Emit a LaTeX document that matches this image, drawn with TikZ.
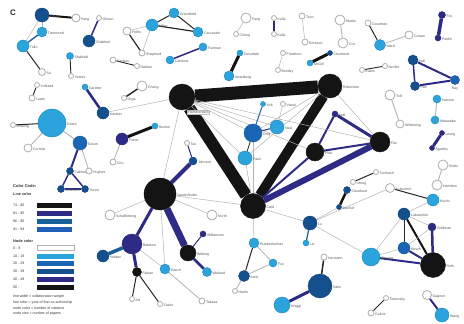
\documentclass[tikz,border=0pt]{standalone}
\usepackage{fontspec}
\setmainfont{Liberation Sans}
\pgfdeclarelayer{bg}
\pgfsetlayers{bg,main}
\definecolor{clight}{HTML}{2BA4DE}
\definecolor{cblue}{HTML}{1B66B4}
\definecolor{cdark}{HTML}{14508E}
\definecolor{cnavy}{HTML}{2E2B86}
\definecolor{cblack}{HTML}{141414}
\definecolor{lteal}{HTML}{17609A}
\definecolor{lblue}{HTML}{1F5FB8}
\definecolor{labgray}{HTML}{555555}
\tikzset{
  nd/.style={circle,inner sep=0pt,minimum size=#1},
  cw/.style={fill=white,draw=gray!65,line width=0.8pt},
  cl/.style={fill=clight,draw=clight!80!black,line width=0.4pt},
  cb/.style={fill=cblue,draw=cblue!80!black,line width=0.4pt},
  cd/.style={fill=cdark,draw=cdark!80!black,line width=0.4pt},
  cn/.style={fill=cnavy,draw=cnavy!80!black,line width=0.4pt},
  ck/.style={fill=cblack,draw=cblack,line width=0.4pt},
  lab/.style={font=\fontsize{3.5}{3.8}\selectfont,text=labgray,inner sep=0.6pt,yshift=-1.6pt},
  ek/.style={draw=cblack},
  en/.style={draw=cnavy},
  et/.style={draw=lteal},
  eb/.style={draw=lblue},
  eg/.style={draw=gray!60,line width=0.5pt},
  edg/.style={draw=gray!30!black},
  legtxt/.style={font=\fontsize{3.6}{4}\selectfont,text=black!80,anchor=west,inner sep=0pt},
  legbar/.style={line width=0.3pt,draw=gray!60},
}
\newcommand\mynode[6]{\node[nd=#4pt,#5,label={[lab]east:#6}] (#1) at (#2,#3) {};}
\begin{document}
\begin{tikzpicture}[x=1pt,y=-1pt]
\useasboundingbox (0,0) rectangle (464,324);
\node[font=\bfseries\fontsize{8}{9}\selectfont,text=black!85] (lettc) at (13,13) {C};
% ---------- top left
\mynode{bauer}{42}{15}{14}{cd}{Bauer}
\mynode{fang1}{76}{18}{8}{cw}{Fang}
\mynode{towns}{42}{32}{10}{cl}{Townsend}
\mynode{tullo}{23}{46}{12}{cl}{Tullo}
\mynode{su}{42}{72}{7}{cw}{Su}
\mynode{olsson}{99}{18}{5}{cw}{Olsson}
\mynode{chabb}{89}{41}{12}{cd}{Chabbert}
\mynode{shalf}{70}{56}{7}{cl}{Shalfield}
\mynode{yeates}{71}{76}{5}{cw}{Yeates}
\mynode{carlson}{113}{60}{6}{cw}{Carlson}
\mynode{dahlan}{137}{66}{5}{cw}{Dahlan}
\mynode{vohl}{37}{85}{5}{cw}{Vohland}
\mynode{lewis}{32}{98}{6}{cw}{Lewis}
\mynode{gardner}{85}{87}{6}{cl}{Gardner}
\mynode{kastner}{103}{113}{12}{cd}{Kastner}
\mynode{chang}{142}{86}{10}{cw}{Chang}
\mynode{orga}{124}{98}{5}{cw}{Orga}
\mynode{gra}{152}{25}{12}{cl}{Miller}
\mynode{grb}{174}{13}{10}{cl}{Greenfield}
\mynode{grc}{198}{32}{10}{cl}{Caccavale}
\mynode{hollis}{127}{31}{8}{cw}{Hollis}
\mynode{sher}{142}{53}{6}{cw}{Shepherd}
% ---------- top middle / right
\mynode{fang2}{246}{18}{10}{cw}{Fang}
\mynode{cheng}{236}{34}{5}{cw}{Cheng}
\mynode{kolla}{274}{18}{5}{cw}{Kolla}
\mynode{kalle}{274}{34}{5}{cw}{Kalle}
\mynode{teco}{302}{16}{6}{cw}{Teco}
\mynode{erick}{305}{42}{6}{cw}{Erickson}
\mynode{fairman}{203}{47}{8}{cl}{Fairman}
\mynode{cardona}{170}{60}{8}{cl}{Cardona}
\mynode{devo}{240}{53}{6}{cl}{Devodate}
\mynode{anast}{229}{76}{10}{cl}{Anastberg}
\mynode{fried}{283}{53}{5}{cw}{Friedburn}
\mynode{bent}{278}{70}{5}{cw}{Bentley}
\mynode{martin}{340}{20}{10}{cw}{Martin}
\mynode{cox}{343}{43}{10}{cw}{Cox}
\mynode{goodman}{368}{23}{6}{cw}{Goodman}
\mynode{ward}{380}{45}{11}{cl}{Ward}
\mynode{cowan}{409}{35}{8}{cw}{Cowan}
\mynode{fox}{442}{15}{7}{cn}{Fox}
\mynode{parikh}{438}{38}{6}{cn}{Parikh}
\mynode{mcgill}{310}{63}{6}{cl}{McGill}
\mynode{cleve}{330}{53}{5}{cd}{Cleveland}
\mynode{eaton}{362}{70}{5}{cw}{Eaton}
\mynode{neville}{385}{66}{5}{cw}{Neville}
\mynode{hall}{413}{60}{10}{cd}{Hall}
\node[nd=9pt,cb,label={[lab]south:Ray}] (ray) at (455,80) {};
\mynode{pan}{415}{86}{9}{cd}{Pan}
\mynode{toft}{390}{95}{10}{cw}{Toft}
\mynode{whit}{400}{124}{8}{cw}{Whitening}
\mynode{hansen}{437}{99}{8}{cl}{Hansen}
\mynode{watan}{435}{120}{8}{cl}{Watanabe}
\mynode{leung}{442}{133}{5}{cn}{Leung}
\mynode{agos}{432}{148}{5}{cn}{Agosthy}
\mynode{stoltz}{443}{165}{10}{cw}{Stoltz}
\mynode{hamil}{437}{185}{10}{cw}{Hamilton}
% ---------- centre
\node[nd=26pt,ck,label={[lab,fill=white,draw=gray!50,line width=0.3pt,xshift=-4pt,yshift=-2pt]south east:Hammerstein}] (hammer) at (182,97) {};
\mynode{robert}{330}{86}{24}{ck}{Robertson}
\mynode{card}{253}{206}{25}{ck}{Card}
\mynode{vander}{160}{194}{32}{ck}{Vanderlinden}
\mynode{plisk}{315}{152}{18}{ck}{Plisk}
\mynode{fan}{380}{142}{20}{ck}{Fan}
\mynode{hoff}{335}{114}{6}{cn}{Hoff}
\mynode{ding}{253}{133}{18}{cb}{Ding}
\mynode{neal}{277}{127}{14}{cl}{Neal}
\mynode{pauli}{245}{158}{14}{cl}{Pauli}
\mynode{yick}{263}{104}{5}{cl}{Yick}
\mynode{vavok}{283}{104}{5}{cw}{Vavok}
\mynode{buxton}{155}{126}{6}{cl}{Buxton}
\mynode{fisher}{122}{139}{12}{cn}{Fisher}
\mynode{chu}{113}{162}{6}{cw}{Chu}
\mynode{tao}{187}{143}{5}{cw}{Tao}
\mynode{johnson}{193}{161}{8}{cd}{Johnson}
\mynode{dzeko}{52}{123}{28}{cl}{Dzeko}
\mynode{jindong}{13}{125}{5}{cw}{Jindong}
\mynode{cormier}{28}{148}{8}{cw}{Cormier}
\mynode{eason}{80}{143}{14}{cb}{Eason}
\mynode{cabrera}{70}{171}{7}{cd}{Cabrera}
\mynode{hughes}{89}{171}{6}{cw}{Hughes}
\mynode{chilm}{61}{189}{7}{cd}{Chilmers}
\mynode{trevor}{85}{189}{7}{cd}{Trevor}
% ---------- bottom
\mynode{schaff}{110}{215}{10}{cw}{Schafferberg}
\mynode{bateson}{132}{244}{20}{cn}{Bateson}
\mynode{holden}{103}{256}{12}{cd}{Holden}
\mynode{fabian}{137}{272}{9}{ck}{Fabian}
\mynode{ad}{132}{299}{5}{cw}{Ad}
\mynode{north}{212}{215}{10}{cw}{North}
\mynode{witberg}{188}{253}{16}{ck}{Witberg}
\mynode{william}{203}{234}{6}{cn}{Williamson}
\mynode{weiland}{207}{272}{9}{cl}{Weiland}
\mynode{rauch}{165}{269}{10}{cl}{Rauch}
\mynode{zavko}{160}{304}{5}{cw}{Zavko}
\mynode{tabasa}{202}{301}{6}{cw}{Tabasa}
\mynode{rueden}{254}{243}{10}{cl}{Ruedenheimer}
\mynode{foxb}{273}{263}{8}{cl}{Fox}
\mynode{iranti}{244}{276}{11}{cd}{Iranti}
\mynode{harlin}{235}{291}{5}{cw}{Harlin}
\mynode{kreggi}{282}{305}{16}{cl}{Kreggi}
\mynode{kahn}{320}{286}{24}{cd}{Kahn}
\mynode{hermann}{324}{257}{6}{cw}{Hermann}
\mynode{lu}{310}{223}{14}{cd}{Lu}
\mynode{liu}{306}{243}{6}{cl}{Liu}
\mynode{tumbach}{376}{172}{5}{cw}{Tumbach}
\mynode{ufrng}{353}{182}{5}{cw}{Ufring}
\mynode{clevb}{347}{190}{7}{cd}{Cleveland}
\mynode{bisch}{339}{207}{5}{cd}{Bischof}
\mynode{schuch}{390}{188}{9}{cw}{Schuchter}
\mynode{kiuchi}{433}{200}{12}{cl}{Kiuchi}
\mynode{luba}{404}{214}{12}{cd}{Lubaschek}
\mynode{goldman}{432}{227}{8}{cn}{Goldman}
\mynode{kirsch}{404}{248}{12}{cb}{Kirsch}
\mynode{chuang}{371}{257}{18}{cl}{Chuang}
\mynode{roth}{433}{265}{25}{ck}{Roth}
\mynode{tink}{386}{298}{5}{cw}{Tinkovsky}
\mynode{gelicis}{371}{313}{6}{cw}{Gelicis}
\mynode{gagnon}{427}{295}{9}{cw}{Gagnon}
\mynode{wang}{442}{315}{14}{cl}{Wang}
% ---------- legend
\node[legtxt,font=\bfseries\fontsize{4}{4.5}\selectfont] (lg0) at (13,186) {Color Code:};
\node[legtxt,font=\bfseries\fontsize{3.8}{4.2}\selectfont] (lg1) at (13,194) {Line color};
\node[legtxt] (lr1) at (13,205) {74 - 80};
\node[legtxt] (lr2) at (13,213) {81 - 85};
\node[legtxt] (lr3) at (13,221) {86 - 90};
\node[legtxt] (lr4) at (13,229) {91 - 94};
\fill[cblack] (37,202.5) rectangle (72,207.5);
\fill[cnavy] (37,210.5) rectangle (72,215.5);
\fill[lteal] (37,218.5) rectangle (72,223.5);
\fill[lblue] (37,226.5) rectangle (72,231.5);
\node[legtxt,font=\bfseries\fontsize{3.8}{4.2}\selectfont] (lg2) at (13,241) {Node color};
\node[legtxt] (nr0) at (13,248) {0 - 9};
\node[legtxt] (nr1) at (13,256) {10 - 19};
\node[legtxt] (nr2) at (13,263) {20 - 29};
\node[legtxt] (nr3) at (13,271) {30 - 39};
\node[legtxt] (nr4) at (13,279) {40 - 49};
\node[legtxt] (nr5) at (13,287) {50 -};
\draw[legbar,fill=white] (37,245.5) rectangle (74,250.5);
\fill[clight] (37,253.5) rectangle (74,258.5);
\fill[cblue] (37,261) rectangle (74,266);
\fill[cdark] (37,268.5) rectangle (74,273.5);
\fill[cnavy] (37,276.5) rectangle (74,281.5);
\fill[cblack] (37,284.5) rectangle (74,289.5);
\node[legtxt] (lt1) at (13,297) {line width = collaboration weight};
\node[legtxt] (lt2) at (13,302.5) {line color = year of first co-authorship};
\node[legtxt] (lt3) at (13,308) {node color = number of citations};
\node[legtxt] (lt4) at (13,313.5) {node size = number of papers};
% ---------- edges
\begin{pgfonlayer}{bg}
\draw[ek,line width=2pt] (bauer) -- (fang1);
\draw[eg] (bauer) -- (towns);
\draw[eg] (bauer) -- (tullo);
\draw[eb,line width=1.4pt] (towns) -- (tullo);
\draw[edg,line width=1pt] (tullo) -- (su);
\draw[en,line width=1.5pt] (olsson) -- (chabb);
\draw[edg,line width=0.9pt] (shalf) -- (yeates);
\draw[edg,line width=0.9pt] (carlson) -- (dahlan);
\draw[edg,line width=0.9pt] (vohl) -- (lewis);
\draw[en,line width=2.5pt] (gardner) -- (kastner);
\draw[edg,line width=1.5pt] (chang) -- (orga);
\draw[edg,line width=1pt] (gra) -- (grb);
\draw[edg,line width=1pt] (grb) -- (grc);
\draw[edg,line width=1.2pt] (gra) -- (grc);
\draw[eg] (gra) -- (hollis);
\draw[eg] (gra) -- (sher);
\draw[edg,line width=1.2pt] (hollis) -- (sher);
\draw[eg] (fang2) -- (cheng);
\draw[en,line width=1.5pt] (kolla) -- (kalle);
\draw[eg] (teco) -- (erick);
\draw[en,line width=1.5pt] (fairman) -- (cardona);
\draw[ek,line width=3pt] (devo) -- (anast);
\draw[eg] (fried) -- (bent);
\draw[eg,line width=0.9pt] (martin) -- (cox);
\draw[edg,line width=1pt] (goodman) -- (ward);
\draw[eg,line width=0.8pt] (ward) -- (cowan);
\draw[en,line width=3.5pt] (fox) -- (parikh);
\draw[ek,line width=3pt] (mcgill) -- (cleve);
\draw[edg,line width=0.9pt] (eaton) -- (neville);
\draw[en,line width=2pt] (hall) -- (ray);
\draw[en,line width=1.5pt] (hall) -- (pan);
\draw[en,line width=2pt] (pan) -- (ray);
\draw[eg,line width=0.9pt] (toft) -- (whit);
\draw[eg,line width=0.9pt] (hansen) -- (watan);
\draw[en,line width=3pt] (leung) -- (agos);
\draw[eg,line width=0.9pt] (stoltz) -- (hamil);
% hub
\draw[ek,line width=13pt] (hammer) -- (robert);
\draw[ek,line width=12pt] (hammer) -- (card);
\draw[ek,line width=10pt] (robert) -- (card);
\draw[en,line width=6pt] (card) -- (fan);
\draw[en,line width=2pt] (card) -- (plisk);
\draw[en,line width=2pt] (plisk) -- (fan);
\draw[en,line width=2pt] (plisk) -- (hoff);
\draw[en,line width=3pt] (hoff) -- (fan);
\draw[eg] (hammer) -- (kastner);
\draw[eg] (hammer) -- (vander);
\draw[eg] (hammer) -- (ding);
\draw[eg] (hammer) -- (neal);
\draw[eg] (hammer) -- (fan);
\draw[eg] (hammer) -- (plisk);
\draw[eg] (hammer) -- (pauli);
\draw[eg] (robert) -- (ding);
\draw[eg] (robert) -- (pauli);
\draw[eg] (robert) -- (fan);
\draw[eg] (card) -- (ding);
\draw[eg] (card) -- (pauli);
\draw[edg,line width=0.8pt] (ding) -- (pauli);
\draw[en,line width=1pt] (ding) -- (neal);
\draw[eb,line width=1pt] (ding) -- (yick);
\draw[eg] (neal) -- (vavok);
\draw[ek,line width=3pt] (fisher) -- (buxton);
\draw[eg,line width=0.8pt] (fisher) -- (chu);
\draw[en,line width=1pt] (johnson) -- (tao);
\draw[en,line width=4pt] (vander) -- (johnson);
\draw[edg,line width=1pt] (dzeko) -- (jindong);
\draw[eg,line width=0.8pt] (dzeko) -- (cormier);
\draw[eg,line width=0.9pt] (dzeko) -- (eason);
\draw[en,line width=2pt] (eason) -- (cabrera);
\draw[eg,line width=0.8pt] (eason) -- (hughes);
\draw[en,line width=1.5pt] (cabrera) -- (chilm);
\draw[en,line width=1.5pt] (cabrera) -- (trevor);
\draw[en,line width=1.5pt] (chilm) -- (trevor);
% bottom
\draw[en,line width=7pt] (vander) -- (witberg);
\draw[en,line width=3pt] (vander) -- (bateson);
\draw[eg] (vander) -- (schaff);
\draw[eg] (vander) -- (north);
\draw[eg] (vander) -- (rauch);
\draw[eg] (vander) -- (card);
\draw[en,line width=1pt] (witberg) -- (william);
\draw[en,line width=2.5pt] (witberg) -- (weiland);
\draw[et,line width=3.5pt] (bateson) -- (holden);
\draw[en,line width=3pt] (bateson) -- (fabian);
\draw[eg] (bateson) -- (rauch);
\draw[edg,line width=1pt] (fabian) -- (ad);
\draw[edg,line width=1pt] (fabian) -- (zavko);
\draw[eg,line width=0.8pt] (rauch) -- (tabasa);
\draw[eg] (card) -- (rueden);
\draw[eg,line width=0.8pt] (rueden) -- (foxb);
\draw[edg,line width=1pt] (rueden) -- (iranti);
\draw[eg,line width=0.8pt] (foxb) -- (iranti);
\draw[eg,line width=0.8pt] (iranti) -- (harlin);
\draw[edg,line width=1.5pt] (hermann) -- (kahn);
\draw[en,line width=3pt] (kahn) -- (kreggi);
\draw[eg] (card) -- (lu);
\draw[et,line width=1.2pt] (lu) -- (liu);
\draw[eg] (lu) -- (chuang);
\draw[eg] (lu) -- (bisch);
\draw[eg] (lu) -- (schuch);
\draw[ek,line width=2.5pt] (clevb) -- (bisch);
\draw[edg,line width=1pt] (tumbach) -- (ufrng);
\draw[edg,line width=1pt] (schuch) -- (kiuchi);
\draw[eg] (kiuchi) -- (luba);
\draw[eg] (luba) -- (goldman);
\draw[edg,line width=1pt] (luba) -- (kirsch);
\draw[ek,line width=2pt] (luba) -- (roth);
\draw[en,line width=2.5pt] (goldman) -- (roth);
\draw[en,line width=2pt] (kirsch) -- (roth);
\draw[eg] (kirsch) -- (chuang);
\draw[eg] (kirsch) -- (goldman);
\draw[en,line width=2pt] (chuang) -- (roth);
\draw[eg] (chuang) -- (luba);
\draw[edg,line width=1pt] (tink) -- (gelicis);
\draw[en,line width=2pt] (gagnon) -- (wang);
\end{pgfonlayer}
\end{tikzpicture}
\end{document}
